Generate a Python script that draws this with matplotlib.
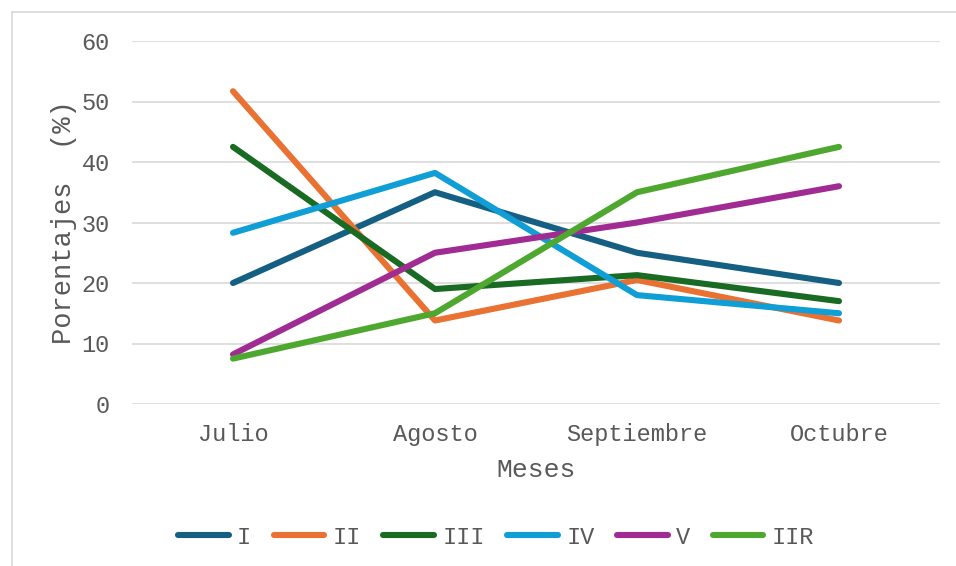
import matplotlib.pyplot as plt
from matplotlib.lines import Line2D

# datos
meses = ["Julio", "Agosto", "Septiembre", "Octubre"]
serie_I = [20.0, 35.0, 25.0, 20.0]
serie_II = [51.7, 13.8, 20.5, 13.8]
serie_III = [42.5, 19.0, 21.3, 17.0]
serie_IV = [28.3, 38.2, 18.0, 15.0]
serie_V = [8.2, 25.0, 30.0, 36.0]
serie_IIR = [7.5, 15.0, 35.0, 42.5]

nombres = ["I", "II", "III", "IV", "V", "IIR"]
colores = ["#156082", "#E97132", "#196B24", "#0F9ED5", "#A02B93", "#4EA72E"]
series = [serie_I, serie_II, serie_III, serie_IV, serie_V, serie_IIR]

plt.rcParams['font.family'] = ['Liberation Mono', 'DejaVu Sans']
gris = "#595959"

W, H = 956, 566
fig = plt.figure(figsize=(W / 100, H / 100), dpi=100)
ax = fig.add_axes([132 / W, 1 - 404 / H, (940 - 132) / W, (404 - 41) / H])

x = list(range(len(meses)))
for vals, nom, col in zip(series, nombres, colores):
    ax.plot(x, vals, color=col, lw=4.4, label=nom, solid_capstyle="round",
            solid_joinstyle="round")

ax.set_xlim(-0.5, 3.5)
ax.set_ylim(0, 60)
ax.set_yticks(range(0, 61, 10))
ax.set_xticks(x)
ax.set_xticklabels(meses)
ax.yaxis.grid(True, color="#d9d9d9", lw=1.2)
ax.set_axisbelow(True)
for s in ax.spines.values():
    s.set_visible(False)
ax.tick_params(axis="both", length=0, labelsize=17, labelcolor=gris)
ax.tick_params(axis="y", pad=16)
ax.tick_params(axis="x", pad=14)

ax.set_xlabel("Meses", fontsize=19, color=gris, labelpad=8)
ax.set_ylabel("Porentajes  (%)", fontsize=19.5, color=gris, labelpad=3)

# leyenda centrada algo a la izquierda del eje, como en el original
cx = (496 - 132) / (940 - 132)
leg = ax.legend(loc="center", bbox_to_anchor=(cx, -(537 - 404) / (404 - 41)),
                ncol=6, frameon=False, fontsize=17, handlelength=2.15,
                handletextpad=0.35, columnspacing=0.95, labelcolor=gris)

# borde del area del grafico (solo arriba e izquierda visibles)
borde = "#d9d9d9"
fig.add_artist(Line2D([12 / W, 1], [1 - 12 / H, 1 - 12 / H], color=borde, lw=1.2))
fig.add_artist(Line2D([12 / W, 12 / W], [0, 1 - 12 / H], color=borde, lw=1.2))

fig.savefig("out.png", dpi=100)
